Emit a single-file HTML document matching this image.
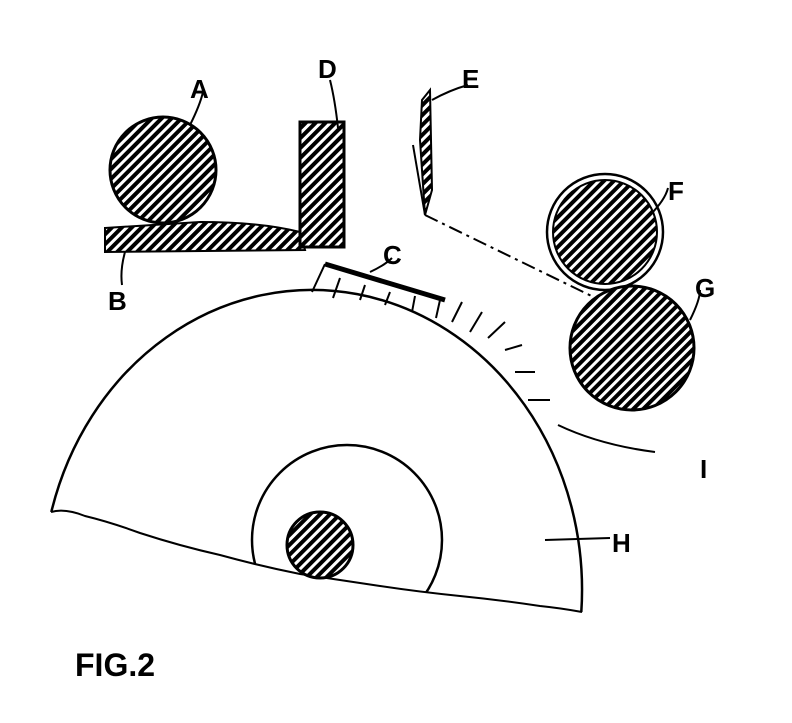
<!DOCTYPE html>
<html><head><meta charset="utf-8"><style>
html,body{margin:0;padding:0;background:#fff;width:792px;height:723px;overflow:hidden;}
svg{display:block;overflow:hidden;}
text{font-family:"Liberation Sans",sans-serif;font-weight:bold;fill:#000;}
</style></head><body>
<svg width="792" height="723" viewBox="0 0 792 723" xmlns="http://www.w3.org/2000/svg">
<defs>
<pattern id="h" patternUnits="userSpaceOnUse" width="7" height="7" patternTransform="rotate(-45)">
<rect width="7" height="7" fill="#fff"/>
<rect width="7" height="4" fill="#000"/>
</pattern>
<clipPath id="wheel">
<path d="M0 0 L792 0 L792 612 L580 612 Q540 606 500 600 Q460 596 420 592 Q380 586 340 580 Q300 576 260 565 Q220 555 180 545 Q140 535 110 525 Q80 518 50 512 L0 512 Z"/>
</clipPath>
</defs>
<path d="M51.3 512 A270 300 0 0 1 581.3 612" fill="none" stroke="#000" stroke-width="2.5"/>
<g clip-path="url(#wheel)">
<circle cx="347" cy="540" r="95" fill="none" stroke="#000" stroke-width="2.5"/>
</g>
<path d="M51 512 Q65 508 85 516 Q110 522 140 533 Q180 546 220 555 Q260 566 300 574 Q340 580 380 586 Q420 592 460 596 Q500 600 540 606 Q560 608 582 612" fill="none" stroke="#000" stroke-width="2"/>
<circle cx="320" cy="545" r="33" fill="url(#h)" stroke="#000" stroke-width="3"/>
<circle cx="163" cy="170" r="53" fill="url(#h)" stroke="#000" stroke-width="3"/>
<path d="M105 228 L200 222 Q260 222 300 232 L305 250 L105 252 Z" fill="url(#h)" stroke="#000" stroke-width="2"/>
<rect x="300" y="122" width="44" height="125" fill="url(#h)" stroke="#000" stroke-width="3"/>
<path d="M325 264 L445 300" stroke="#000" stroke-width="5"/>
<path d="M325 264 L312 292 M340 278 L333 298 M365 285 L360 300 M390 292 L385 305 M415 296 L412 312 M440 300 L436 318 M462 302 L452 322 M482 312 L470 332 M505 322 L488 338 M522 345 L505 350 M535 372 L515 372 M550 400 L528 400" stroke="#000" stroke-width="2"/>
<path d="M422 100 L430 90 L432 190 L425 215 L420 140 Z" fill="url(#h)" stroke="#000" stroke-width="2"/>
<path d="M413 145 L425 215" stroke="#000" stroke-width="2"/>
<path d="M425 215 L610 305" stroke="#000" stroke-width="2" stroke-dasharray="14 5 3 5" fill="none"/>
<circle cx="605" cy="232" r="58" fill="none" stroke="#000" stroke-width="2.5"/>
<circle cx="605" cy="232" r="52" fill="url(#h)" stroke="#000" stroke-width="2"/>
<circle cx="632" cy="348" r="62" fill="url(#h)" stroke="#000" stroke-width="3"/>
<g fill="none" stroke="#000" stroke-width="2">
<path d="M190 125 Q200 105 203 92"/>
<path d="M338 128 Q335 100 330 80"/>
<path d="M432 100 Q450 90 468 85"/>
<path d="M650 215 Q665 200 668 188"/>
<path d="M690 320 Q700 300 700 290"/>
<path d="M370 272 Q385 265 392 258"/>
<path d="M125 252 Q120 270 122 285"/>
<path d="M558 425 Q600 445 655 452"/>
<path d="M545 540 L610 538"/>
</g>
<g font-size="26">
<text x="190" y="98">A</text>
<text x="318" y="78">D</text>
<text x="462" y="88">E</text>
<text x="668" y="200">F</text>
<text x="695" y="297">G</text>
<text x="383" y="264">C</text>
<text x="108" y="310">B</text>
<text x="700" y="478">I</text>
<text x="612" y="552">H</text>
<text x="75" y="676" font-size="32">FIG.2</text>
</g>
</svg>
</body></html>
